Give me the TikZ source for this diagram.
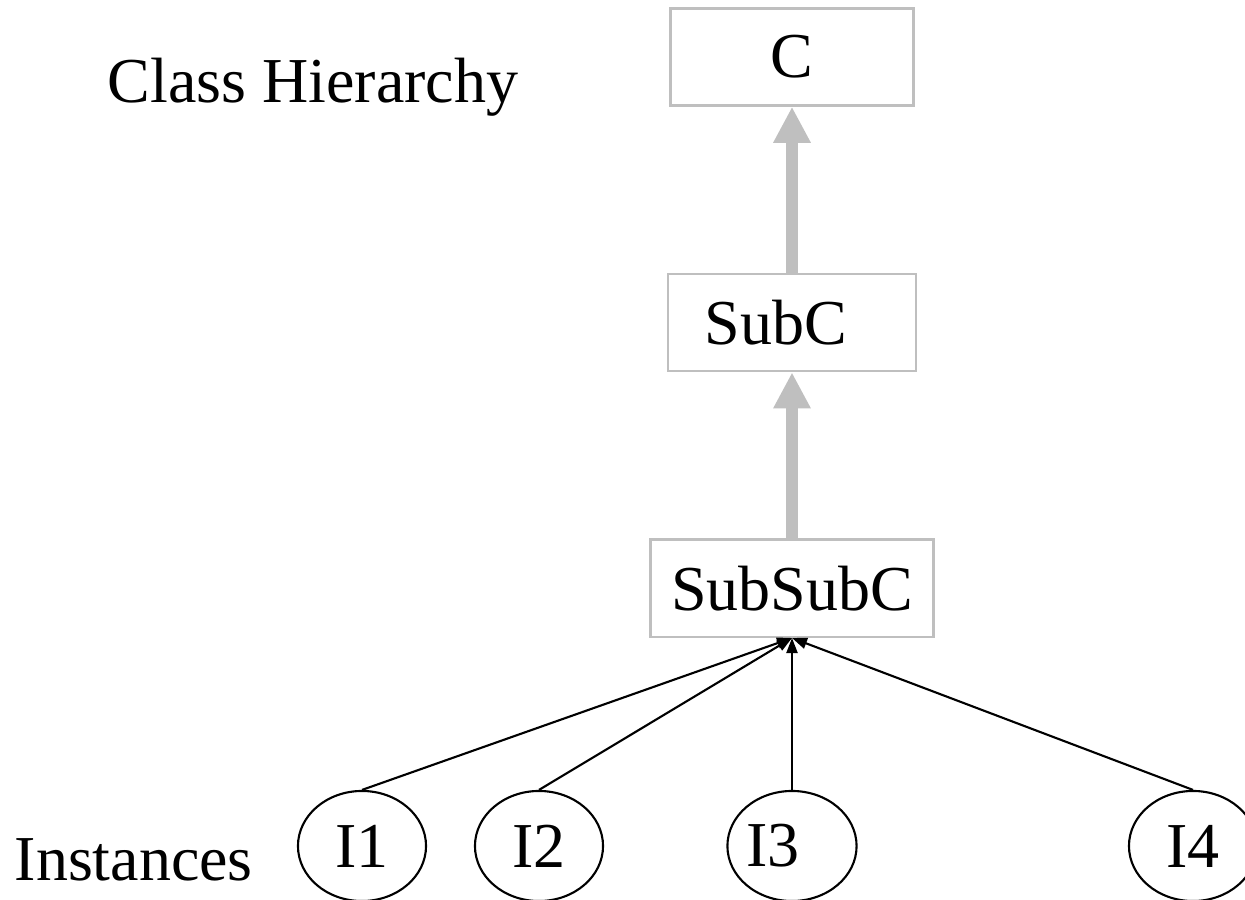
\documentclass[tikz,border=0pt]{standalone}
\usepackage{fontspec}
\setmainfont{Liberation Serif}
\usepackage{tikz}
\usetikzlibrary{shapes.geometric, arrows.meta, positioning}

\begin{document}
\begin{tikzpicture}[
    x=0.01cm, y=-0.01cm,
    node distance=1.66cm,
    font=\fontsize{18.2}{20}\selectfont,
    classbox/.style={rectangle, draw=black!25, line width=0.7pt, minimum height=0.97cm, inner sep=0pt},
    instance/.style={ellipse, draw=black, line width=0.6pt, minimum width=1.28cm, minimum height=1.1cm, inner sep=0pt},
    inherit/.style={-{Triangle[length=0.36cm, width=0.35cm]}, line width=0.12cm, black!25},
    instof/.style={-{Triangle[length=0.15cm, width=0.11cm]}, line width=0.6pt, black},
    label/.style={anchor=base west, inner sep=0pt}
]
\useasboundingbox (0,0) rectangle (1245,900);
\clip (0,0) rectangle (1245,900);

% Class hierarchy
\node[classbox, minimum width=2.43cm] (c) at (792,57) {C};
\node[classbox, minimum width=2.48cm, below=of c] (subc) {SubC\hspace*{0.32cm}};
\node[classbox, minimum width=2.83cm, below=of subc] (subsubc) {SubSubC};

% Instances
\node[instance] (i1) at (362,846) {I1};
\node[instance] (i2) at (539,846) {I2};
\node[instance] (i3) at (792,846) {I3\hspace*{0.38cm}};
\node[instance] (i4) at (1193,846) {I4};

% Inheritance arrows
\draw[inherit] (subsubc.north) -- (subc.south);
\draw[inherit] (subc.north) -- (c.south);

% Instance-of arrows
\foreach \i in {i1, i2, i3, i4}
    \draw[instof] (\i.north) -- (subsubc.south);

% Labels
\node[label] (hier) at (107,102) {Class Hierarchy};
\node[label] (inst) at (14,880) {Instances};

\end{tikzpicture}
\end{document}
